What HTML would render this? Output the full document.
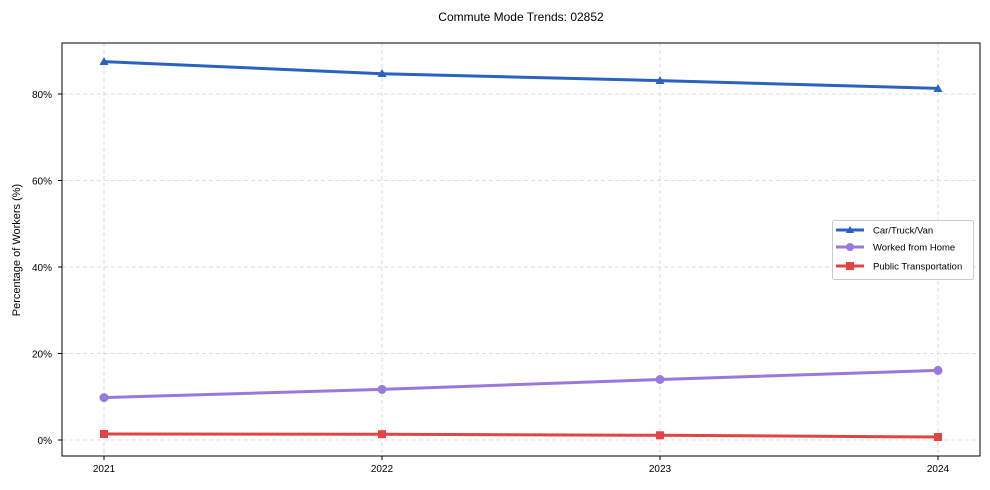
<!DOCTYPE html>
<html><head><style>body{margin:0;background:#fff}svg{display:block;font-family:"Liberation Sans",Arial,sans-serif}</style></head><body>
<svg width="990" height="490" viewBox="0 0 990 490">
<rect width="990" height="490" fill="#fff"/>
<text x="521" y="21" font-size="12" text-anchor="middle">Commute Mode Trends: 02852</text>
<g stroke="#d3d3d3" stroke-dasharray="4,3" stroke-width="0.8">
<line x1="104" y1="43" x2="104" y2="456"/><line x1="382" y1="43" x2="382" y2="456"/><line x1="660" y1="43" x2="660" y2="456"/><line x1="938" y1="43" x2="938" y2="456"/>
<line x1="62" y1="440" x2="980" y2="440"/><line x1="62" y1="353.5" x2="980" y2="353.5"/><line x1="62" y1="267" x2="980" y2="267"/><line x1="62" y1="180.5" x2="980" y2="180.5"/><line x1="62" y1="94" x2="980" y2="94"/>
</g>
<rect x="62" y="43" width="918" height="413" fill="none" stroke="#000" stroke-width="1"/>
<g font-size="10" text-anchor="end">
<text x="52" y="444">0%</text><text x="52" y="357.5">20%</text><text x="52" y="271">40%</text><text x="52" y="184.5">60%</text><text x="52" y="98">80%</text>
</g>
<g stroke="#000"><line x1="58" y1="440" x2="62" y2="440"/><line x1="58" y1="353.5" x2="62" y2="353.5"/><line x1="58" y1="267" x2="62" y2="267"/><line x1="58" y1="180.5" x2="62" y2="180.5"/><line x1="58" y1="94" x2="62" y2="94"/>
<line x1="104" y1="456" x2="104" y2="460"/><line x1="382" y1="456" x2="382" y2="460"/><line x1="660" y1="456" x2="660" y2="460"/><line x1="938" y1="456" x2="938" y2="460"/></g>
<g font-size="10" text-anchor="middle">
<text x="104" y="472">2021</text><text x="382" y="472">2022</text><text x="660" y="472">2023</text><text x="938" y="472">2024</text>
</g>
<text transform="translate(20,250) rotate(-90)" font-size="11" text-anchor="middle">Percentage of Workers (%)</text>
<polyline points="104,61.6 382,73.7 660,80.6 938,88.4" fill="none" stroke="#2a62c0" stroke-width="3"/>
<g fill="#2a62c0"><polygon points="104,57 108.5,65 99.5,65"/><polygon points="382,69 386.5,77 377.5,77"/><polygon points="660,76 664.5,84 655.5,84"/><polygon points="938,84 942.5,92 933.5,92"/></g>
<polyline points="104,397.6 382,389.4 660,379.5 938,370.4" fill="none" stroke="#9b78dc" stroke-width="3"/>
<g fill="#9b78dc"><circle cx="104" cy="397.6" r="4.5"/><circle cx="382" cy="389.4" r="4.5"/><circle cx="660" cy="379.5" r="4.5"/><circle cx="938" cy="370.4" r="4.5"/></g>
<polyline points="104,434 382,434.2 660,435.3 938,437" fill="none" stroke="#e04444" stroke-width="3"/>
<g fill="#e04444"><rect x="100" y="430" width="8" height="8"/><rect x="378" y="430.2" width="8" height="8"/><rect x="656" y="431.3" width="8" height="8"/><rect x="934" y="433" width="8" height="8"/></g>
<rect x="832.5" y="220.5" width="141" height="59" rx="2" fill="#fff" stroke="#ccc"/>
<g font-size="9.5">
<line x1="836" y1="230" x2="864" y2="230" stroke="#2a62c0" stroke-width="3"/><polygon points="850,226 854,233 846,233" fill="#2a62c0"/><text x="873" y="233.5">Car/Truck/Van</text>
<line x1="836" y1="247" x2="864" y2="247" stroke="#9b78dc" stroke-width="3"/><circle cx="850" cy="247" r="4" fill="#9b78dc"/><text x="873" y="250.5">Worked from Home</text>
<line x1="836" y1="266" x2="864" y2="266" stroke="#e04444" stroke-width="3"/><rect x="846" y="262" width="8" height="8" fill="#e04444"/><text x="873" y="269.5">Public Transportation</text>
</g>
</svg>
</body></html>
